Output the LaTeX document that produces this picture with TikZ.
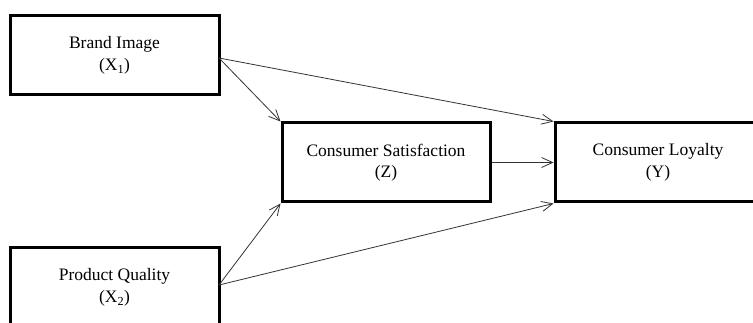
\documentclass[tikz,border=0pt]{standalone}
\usepackage{fontspec}
\setmainfont{Liberation Serif}
\usetikzlibrary{arrows.meta}
\begin{document}
\begin{tikzpicture}[x=1pt,y=-1pt,
  varbox/.style={draw=black,line width=3pt,minimum width=209pt,minimum height=79pt,align=center,inner sep=0pt,font=\fontsize{17.5}{21.5}\selectfont},
  link/.style={draw=black!80,line width=0.8pt,-{Straight Barb[length=11pt,width=10pt,line width=0.8pt]}}]
\useasboundingbox (0,0) rectangle (753,323);
\clip (0,0) rectangle (753,323);
\node[varbox] (bi) at (114.5,55.5) {Brand Image\\(X\textsubscript{1})};
\node[varbox,minimum width=208pt] (cs) at (386,162.5) {Consumer Satisfaction\\(Z)};
\node[varbox,minimum width=206pt] (cl) at (658,162.5) {Consumer Loyalty\\(Y)};
\node[varbox] (pq) at (114.5,287.5) {Product Quality\\(X\textsubscript{2})};
\coordinate (bio) at (219,58);
\coordinate (pqo) at (219,285);
\draw[link] (bio) -- (cs.north west);
\draw[link] (bio) -- (cl.north west);
\draw[link] (cs.east) -- (cl.west);
\draw[link] (pqo) -- (cs.south west);
\draw[link] (pqo) -- (cl.south west);
\end{tikzpicture}
\end{document}
